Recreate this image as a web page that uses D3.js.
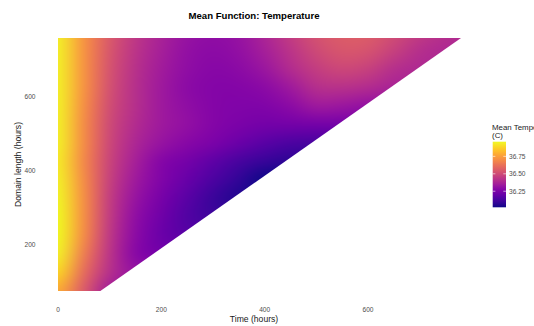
<!DOCTYPE html>
<html>
<head>
<meta charset="utf-8">
<script src="https://cdn.jsdelivr.net/npm/d3@7"></script>
<style>
  html, body { margin: 0; padding: 0; background: #ffffff; }
  svg { display: block; font-family: "Liberation Sans", Arial, Helvetica, sans-serif; }
</style>
</head>
<body>
<svg id="chart" width="534" height="326"></svg>
<script>
// Time grid (hours) – columns of the mean surface
const timeGrid = [0, 50, 100, 150, 200, 250, 300, 350, 400, 450, 500, 550, 600, 650, 700, 750, 800];
// Domain length grid (hours) – rows of the mean surface
const lengthGrid = [75, 125, 175, 225, 275, 325, 375, 425, 475, 525, 575, 625, 675, 725, 775];
// Estimated mean temperature (C); one row per domain length, null where time exceeds the domain
const meanTemp = [
  [36.78, 36.55, 36.35, null, null, null, null, null, null, null, null, null, null, null, null, null, null],
  [36.88, 36.61, 36.41, 36.32, null, null, null, null, null, null, null, null, null, null, null, null, null],
  [36.94, 36.66, 36.43, 36.28, 36.23, null, null, null, null, null, null, null, null, null, null, null, null],
  [36.96, 36.70, 36.44, 36.29, 36.21, 36.17, null, null, null, null, null, null, null, null, null, null, null],
  [36.96, 36.71, 36.45, 36.30, 36.22, 36.15, 36.11, null, null, null, null, null, null, null, null, null, null],
  [36.95, 36.71, 36.46, 36.32, 36.24, 36.17, 36.10, 36.05, null, null, null, null, null, null, null, null, null],
  [36.94, 36.70, 36.47, 36.34, 36.26, 36.20, 36.14, 36.08, 36.02, null, null, null, null, null, null, null, null],
  [36.93, 36.69, 36.48, 36.36, 36.27, 36.23, 36.18, 36.13, 36.09, 36.07, null, null, null, null, null, null, null],
  [36.94, 36.70, 36.49, 36.38, 36.32, 36.28, 36.25, 36.21, 36.17, 36.14, 36.13, null, null, null, null, null, null],
  [36.94, 36.70, 36.50, 36.40, 36.34, 36.31, 36.27, 36.25, 36.23, 36.23, 36.23, 36.23, null, null, null, null, null],
  [36.94, 36.71, 36.51, 36.41, 36.34, 36.30, 36.27, 36.26, 36.26, 36.29, 36.34, 36.33, 36.31, null, null, null, null],
  [36.94, 36.72, 36.52, 36.41, 36.34, 36.29, 36.27, 36.27, 36.29, 36.34, 36.41, 36.42, 36.40, 36.37, null, null, null],
  [36.94, 36.72, 36.53, 36.42, 36.35, 36.30, 36.28, 36.29, 36.33, 36.40, 36.46, 36.49, 36.47, 36.41, 36.39, null, null],
  [36.94, 36.72, 36.54, 36.43, 36.36, 36.31, 36.29, 36.31, 36.36, 36.43, 36.50, 36.54, 36.53, 36.47, 36.41, 36.39, null],
  [36.94, 36.72, 36.55, 36.44, 36.37, 36.32, 36.30, 36.32, 36.38, 36.46, 36.53, 36.56, 36.56, 36.51, 36.45, 36.41, 36.39]
];
// Outline of the observed (time, domain length) region
const domainOutline = [[0, 75], [82, 75], [780, 759], [0, 759]];
// Axis extents and ticks
const timeRange = [0, 780];
const lengthRange = [75, 759];
const timeTicks = [0, 200, 400, 600];
const lengthTicks = [200, 400, 600];
const legendTicks = [36.25, 36.50, 36.75];

const svg = d3.select("#chart");
const W = 534, H = 326;

const x = d3.scaleLinear().domain(timeRange).range([58, 461]);
const y = d3.scaleLinear().domain(lengthRange).range([291, 38]);

const allVals = meanTemp.flat().filter(v => v != null);
const color = d3.scaleSequential(d3.interpolatePlasma).domain(d3.extent(allVals));

// ---- raster surface: one source pixel per grid cell, smoothed on upscale ----
const nT = timeGrid.length, nL = lengthGrid.length;
const filled = meanTemp.map(row => { let last = null; return row.map(v => (v == null ? last : (last = v))); });
const src = document.createElement("canvas");
src.width = nT + 2; src.height = nL + 2;
const sctx = src.getContext("2d");
const imgData = sctx.createImageData(nT + 2, nL + 2);
for (let py = 0; py < nL + 2; py++) {
  const j = Math.max(0, Math.min(nL - 1, nL - py));
  for (let px = 0; px < nT + 2; px++) {
    const i = Math.max(0, Math.min(nT - 1, px - 1));
    const c = d3.rgb(color(filled[j][i]));
    const k = (py * (nT + 2) + px) * 4;
    imgData.data[k] = c.r; imgData.data[k + 1] = c.g; imgData.data[k + 2] = c.b; imgData.data[k + 3] = 255;
  }
}
sctx.putImageData(imgData, 0, 0);

const dT = timeGrid[1] - timeGrid[0];
const dL = lengthGrid[1] - lengthGrid[0];
const big = document.createElement("canvas");
big.width = W; big.height = H;
const bctx = big.getContext("2d");
bctx.imageSmoothingEnabled = true;
bctx.imageSmoothingQuality = "high";
const x0 = x(timeGrid[0] - 1.5 * dT), x1 = x(timeGrid[nT - 1] + 1.5 * dT);
const y0 = y(lengthGrid[nL - 1] + 1.5 * dL), y1 = y(lengthGrid[0] - 1.5 * dL);
bctx.drawImage(src, 0, 0, nT + 2, nL + 2, x0, y0, x1 - x0, y1 - y0);

svg.append("clipPath").attr("id", "domainClip")
  .append("path")
  .attr("d", d3.line().x(d => x(d[0])).y(d => y(d[1]))(domainOutline) + "Z");

svg.append("image")
  .attr("x", 0).attr("y", 0).attr("width", W).attr("height", H)
  .attr("href", big.toDataURL())
  .attr("clip-path", "url(#domainClip)");

// ---- title ----
svg.append("text")
  .attr("x", 254).attr("y", 18.5)
  .attr("text-anchor", "middle")
  .attr("font-size", 9.6).attr("font-weight", "bold").attr("fill", "#000")
  .text("Mean Function: Temperature");

// ---- axes (labels only, no lines) ----
svg.append("g").selectAll("text").data(timeTicks).join("text")
  .attr("x", d => x(d)).attr("y", 311.5)
  .attr("text-anchor", "middle").attr("font-size", 6.6).attr("fill", "#4d4d4d")
  .text(d => d);

svg.append("g").selectAll("text").data(lengthTicks).join("text")
  .attr("x", 35.5).attr("y", d => y(d) + 2.3)
  .attr("text-anchor", "end").attr("font-size", 6.6).attr("fill", "#4d4d4d")
  .text(d => d);

svg.append("text")
  .attr("x", 254).attr("y", 322)
  .attr("text-anchor", "middle").attr("font-size", 8.6).attr("fill", "#1a1a1a")
  .text("Time (hours)");

svg.append("text")
  .attr("transform", "translate(21,164.5) rotate(-90)")
  .attr("text-anchor", "middle").attr("font-size", 8.6).attr("fill", "#1a1a1a")
  .text("Domain length (hours)");

// ---- colour bar legend ----
const lg = svg.append("g");
const barX = 492.7, barW = 13.3, barTop = 141.7, barBot = 207.3;
const ly = d3.scaleLinear().domain(color.domain()).range([barBot, barTop]);

const grad = svg.append("defs").append("linearGradient")
  .attr("id", "plasmaBar").attr("x1", 0).attr("y1", 1).attr("x2", 0).attr("y2", 0);
d3.range(0, 1.0001, 0.02).forEach(p => {
  grad.append("stop").attr("offset", p).attr("stop-color", d3.interpolatePlasma(p));
});

lg.append("text").attr("x", 492).attr("y", 130)
  .attr("font-size", 7.9).attr("fill", "#1a1a1a").text("Mean Temperature");
lg.append("text").attr("x", 492).attr("y", 138)
  .attr("font-size", 7.9).attr("fill", "#1a1a1a").text("(C)");

lg.append("rect")
  .attr("x", barX).attr("y", barTop).attr("width", barW).attr("height", barBot - barTop)
  .attr("fill", "url(#plasmaBar)");

const tl = barW / 5;
lg.selectAll("line.tl").data(legendTicks).join("line")
  .attr("x1", barX).attr("x2", barX + tl)
  .attr("y1", d => ly(d)).attr("y2", d => ly(d))
  .attr("stroke", "#fff").attr("stroke-width", 0.6);
lg.selectAll("line.tr").data(legendTicks).join("line")
  .attr("x1", barX + barW - tl).attr("x2", barX + barW)
  .attr("y1", d => ly(d)).attr("y2", d => ly(d))
  .attr("stroke", "#fff").attr("stroke-width", 0.6);
lg.selectAll("text.tick").data(legendTicks).join("text")
  .attr("x", 509).attr("y", d => ly(d) + 2.3)
  .attr("font-size", 6.6).attr("fill", "#4d4d4d")
  .text(d => d.toFixed(2));
</script>
</body>
</html>
